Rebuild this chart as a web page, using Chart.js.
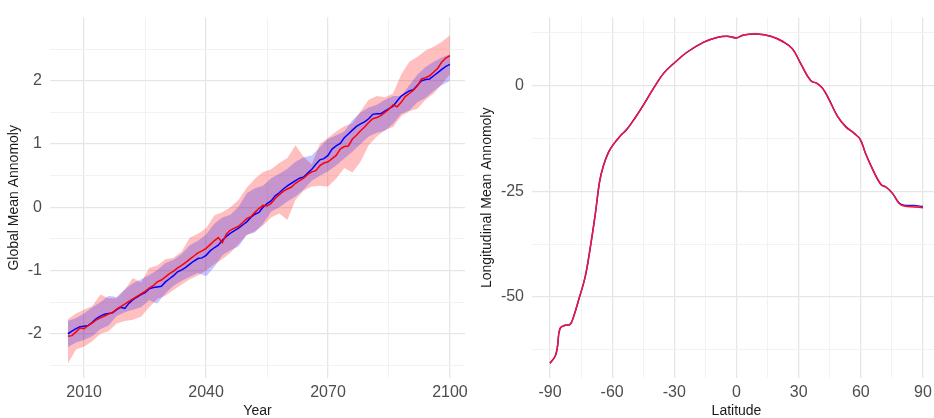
<!DOCTYPE html>
<html>
<head>
<meta charset="utf-8">
<script src="https://cdn.jsdelivr.net/npm/chart.js@4"></script>
<style>
html, body { margin: 0; padding: 0; background: #fff; overflow: hidden; width: 934px; height: 418px; }
#graphique-global { position: absolute; left: 0; top: 0; }
#graphique-latitude { position: absolute; left: 470px; top: 0; }
</style>
</head>
<body>
<canvas id="graphique-global" width="470" height="418"></canvas>
<canvas id="graphique-latitude" width="480" height="418"></canvas>
<script>
// Panneau gauche : anomalie moyenne globale par année
const years = [
  2006, 2007, 2008, 2009, 2010, 2011, 2012, 2013, 2014, 2015,
  2016, 2017, 2018, 2019, 2020, 2021, 2022, 2023, 2024, 2025,
  2026, 2027, 2028, 2029, 2030, 2031, 2032, 2033, 2034, 2035,
  2036, 2037, 2038, 2039, 2040, 2041, 2042, 2043, 2044, 2045,
  2046, 2047, 2048, 2049, 2050, 2051, 2052, 2053, 2054, 2055,
  2056, 2057, 2058, 2059, 2060, 2061, 2062, 2063, 2064, 2065,
  2066, 2067, 2068, 2069, 2070, 2071, 2072, 2073, 2074, 2075,
  2076, 2077, 2078, 2079, 2080, 2081, 2082, 2083, 2084, 2085,
  2086, 2087, 2088, 2089, 2090, 2091, 2092, 2093, 2094, 2095,
  2096, 2097, 2098, 2099, 2100
];
const redMean = [
  -2.04, -2.03, -1.97, -1.91, -1.92, -1.87, -1.83, -1.78, -1.75, -1.72,
  -1.69, -1.66, -1.61, -1.57, -1.53, -1.49, -1.45, -1.41, -1.37, -1.33,
  -1.28, -1.24, -1.18, -1.15, -1.10, -1.05, -1.01, -0.96, -0.92, -0.87,
  -0.82, -0.77, -0.72, -0.69, -0.65, -0.59, -0.53, -0.48, -0.56, -0.42,
  -0.36, -0.33, -0.30, -0.24, -0.18, -0.15, -0.08, -0.02, 0.03, 0.02,
  0.06, 0.14, 0.20, 0.25, 0.29, 0.32, 0.38, 0.42, 0.46, 0.52,
  0.56, 0.58, 0.66, 0.70, 0.72, 0.77, 0.82, 0.92, 0.96, 0.97,
  1.08, 1.14, 1.21, 1.27, 1.34, 1.40, 1.42, 1.45, 1.50, 1.55,
  1.62, 1.59, 1.66, 1.75, 1.80, 1.85, 1.92, 2.03, 2.05, 2.08,
  2.14, 2.20, 2.30, 2.36, 2.40
];
const blueMean = [
  -2.00, -1.96, -1.92, -1.89, -1.88, -1.87, -1.82, -1.76, -1.72, -1.69,
  -1.68, -1.67, -1.62, -1.58, -1.60, -1.52, -1.46, -1.42, -1.38, -1.35,
  -1.29, -1.27, -1.26, -1.25, -1.18, -1.13, -1.08, -1.02, -0.99, -0.95,
  -0.90, -0.85, -0.81, -0.80, -0.76, -0.69, -0.64, -0.60, -0.52, -0.46,
  -0.41, -0.37, -0.33, -0.28, -0.23, -0.16, -0.11, -0.08, 0.00, 0.06,
  0.10, 0.18, 0.23, 0.29, 0.34, 0.38, 0.42, 0.46, 0.48, 0.54,
  0.60, 0.68, 0.75, 0.77, 0.82, 0.92, 0.97, 1.01, 1.10, 1.16,
  1.22, 1.28, 1.32, 1.35, 1.40, 1.47, 1.48, 1.48, 1.52, 1.56,
  1.60, 1.68, 1.76, 1.80, 1.84, 1.86, 1.93, 2.00, 2.02, 2.03,
  2.08, 2.13, 2.18, 2.23, 2.26
];

// bandes d'incertitude (une valeur tous les deux ans)
const bandYears = [
  2006, 2008, 2010, 2012, 2014, 2016, 2018, 2020, 2022, 2024,
  2026, 2028, 2030, 2032, 2034, 2036, 2038, 2040, 2042, 2044,
  2046, 2048, 2050, 2052, 2054, 2056, 2058, 2060, 2062, 2064,
  2066, 2068, 2070, 2072, 2074, 2076, 2078, 2080, 2082, 2084,
  2086, 2088, 2090, 2092, 2094, 2096, 2098, 2100
];
const redHigh = [
  -1.77, -1.68, -1.62, -1.56, -1.38, -1.44, -1.44, -1.30, -1.12, -1.19,
  -0.96, -0.92, -0.82, -0.80, -0.70, -0.48, -0.42, -0.33, -0.13, -0.08,
  0.00, 0.12, 0.31, 0.45, 0.56, 0.60, 0.70, 0.78, 0.98, 0.80,
  0.68, 1.00, 1.10, 1.20, 1.28, 1.33, 1.52, 1.70, 1.76, 1.74,
  1.80, 2.10, 2.30, 2.38, 2.48, 2.54, 2.62, 2.72
];
const redLow = [
  -2.47, -2.25, -2.20, -2.12, -2.00, -1.96, -1.84, -1.80, -1.78, -1.73,
  -1.58, -1.45, -1.40, -1.31, -1.22, -1.14, -1.08, -1.00, -0.90, -0.82,
  -0.72, -0.58, -0.44, -0.38, -0.29, -0.16, -0.10, -0.20, 0.12, 0.26,
  0.33, 0.34, 0.33, 0.45, 0.62, 0.55, 0.72, 0.98, 1.12, 1.22,
  1.27, 1.44, 1.52, 1.56, 1.70, 1.80, 1.95, 2.10
];
const blueHigh = [
  -1.80, -1.75, -1.68, -1.58, -1.50, -1.40, -1.42, -1.30, -1.20, -1.14,
  -1.07, -0.99, -0.88, -0.83, -0.74, -0.60, -0.53, -0.43, -0.26, -0.16,
  -0.12, 0.01, 0.22, 0.30, 0.34, 0.46, 0.53, 0.61, 0.72, 0.79,
  0.82, 0.95, 1.08, 1.14, 1.20, 1.38, 1.50, 1.58, 1.62, 1.70,
  1.76, 1.76, 1.93, 2.10, 2.22, 2.30, 2.37, 2.42
];
const blueLow = [
  -2.21, -2.14, -2.10, -2.04, -1.93, -1.87, -1.72, -1.66, -1.62, -1.58,
  -1.47, -1.52, -1.36, -1.24, -1.16, -1.10, -1.04, -1.09, -0.95, -0.76,
  -0.68, -0.62, -0.44, -0.40, -0.26, -0.07, 0.00, 0.09, 0.17, 0.28,
  0.42, 0.50, 0.57, 0.66, 0.77, 0.88, 1.00, 1.12, 1.18, 1.21,
  1.32, 1.48, 1.53, 1.66, 1.73, 1.84, 1.93, 2.00
];
const yearTicks = [2010, 2040, 2070, 2100];
const yearMinorTicks = [2025, 2055, 2085];
const globalTicks = [-2, -1, 0, 1, 2];
const globalMinorTicks = [-2.5, -1.5, -0.5, 0.5, 1.5, 2.5];

// Panneau droit : anomalie moyenne longitudinale par latitude
const latitudes = [
  -90, -87.6, -86.5, -85.2, -82.7, -80.3, -78.7, -76.3, -73.1, -70.6,
  -68.2, -66.1, -64.2, -61.8, -59.4, -56.1, -53, -48.9, -44.8, -40,
  -35.2, -29.5, -23.9, -15.8, -9.4, -4.5, 0, 3.5, 10, 16.5,
  22.1, 27, 31, 35.8, 39, 41.5, 44.7, 48.7, 52.7, 56.8,
  59.7, 62.4, 65.6, 69.7, 72.1, 75.3, 78.5, 80.9, 85.8, 90
];
const redLat = [
  -65.7, -64.1, -62.1, -57.5, -56.7, -56.5, -54.8, -50.9, -45.4, -38.4,
  -30.6, -22.8, -18.9, -15.8, -13.9, -11.9, -10.4, -7.6, -4.5, -0.6,
  2.9, 5.6, 7.9, 10.3, 11.4, 11.7, 11.3, 12.0, 12.2, 11.7,
  10.5, 8.7, 5.2, 1.2, 0.5, -0.6, -3.3, -7.2, -9.7, -11.3,
  -12.7, -16.2, -19.7, -23.4, -24.0, -25.5, -27.9, -28.5, -28.7, -28.9
];
const blueLat = [
  -65.7, -64.1, -62.1, -57.5, -56.7, -56.5, -54.8, -50.9, -45.4, -38.4,
  -30.6, -22.8, -18.9, -15.8, -13.9, -11.9, -10.4, -7.6, -4.5, -0.6,
  2.9, 5.6, 7.9, 10.3, 11.4, 11.7, 11.3, 12.0, 12.2, 11.7,
  10.5, 8.7, 5.2, 1.2, 0.5, -0.6, -3.3, -7.2, -9.7, -11.3,
  -12.7, -16.2, -19.7, -23.4, -24.0, -25.5, -27.8, -28.3, -28.4, -28.6
];
const latTicks = [-90, -60, -30, 0, 30, 60, 90];
const latMinorTicks = [-75, -45, -15, 15, 45, 75];
const lonTicks = [-50, -25, 0];
const lonMinorTicks = [-62.5, -37.5, -12.5, 12.5];

const TICK_COLOR = "#4d4d4d";
const TITLE_COLOR = "#1a1a1a";
const FONT = "'Liberation Sans', Arial, sans-serif";

function points(xs, ys) {
  return xs.map((x, i) => ({ x: x, y: ys[i] }));
}

// axe façon ggplot theme_minimal : grille majeure + mineure, pas de trait d'axe
function axe(min, max, majors, minors, titre, titlePad, taille, horizontal) {
  return {
    type: "linear",
    min: min,
    max: max,
    border: { display: false },
    afterBuildTicks: (scale) => {
      scale.ticks = majors.concat(minors).map(v => ({ value: v }));
    },
    afterFit: (scale) => {
      if (horizontal) scale.height = taille; else scale.width = taille;
    },
    grid: {
      drawTicks: false,
      color: (c) => majors.includes(c.tick.value) ? "#e6e6e6" : "#f1f1f1",
      lineWidth: (c) => majors.includes(c.tick.value) ? 1.3 : 0.9
    },
    ticks: {
      autoSkip: false,
      maxRotation: 0,
      padding: horizontal ? 5 : 8,
      color: TICK_COLOR,
      font: { family: FONT, size: 16 },
      callback: (v) => majors.includes(v) ? String(v) : ""
    },
    title: {
      display: true,
      text: titre,
      color: TITLE_COLOR,
      font: { family: FONT, size: 14, lineHeight: 1 },
      padding: titlePad
    }
  };
}

Chart.defaults.animation = false;

new Chart(document.querySelector("#graphique-global"), {
  type: "line",
  data: {
    datasets: [
      { data: points(years, redMean), borderColor: "#ff0000", borderWidth: 1.5, pointRadius: 0, tension: 0, fill: false },
      { data: points(years, blueMean), borderColor: "#0000ff", borderWidth: 1.5, pointRadius: 0, tension: 0, fill: false },
      { data: points(bandYears, blueHigh), borderColor: "transparent", borderWidth: 0, pointRadius: 0, tension: 0, fill: "+1", backgroundColor: "rgba(0, 0, 255, 0.22)" },
      { data: points(bandYears, blueLow), borderColor: "transparent", borderWidth: 0, pointRadius: 0, tension: 0, fill: false },
      { data: points(bandYears, redHigh), borderColor: "transparent", borderWidth: 0, pointRadius: 0, tension: 0, fill: "+1", backgroundColor: "rgba(255, 0, 0, 0.25)" },
      { data: points(bandYears, redLow), borderColor: "transparent", borderWidth: 0, pointRadius: 0, tension: 0, fill: false }
    ]
  },
  options: {
    responsive: false,
    devicePixelRatio: 1,
    layout: { padding: { top: 13, right: 5, left: 0, bottom: 0 } },
    plugins: { legend: { display: false }, tooltip: { enabled: false } },
    scales: {
      x: axe(2001.6, 2103.7, yearTicks, yearMinorTicks, "Year", { top: 0, bottom: 0 }, 40, true),
      y: axe(-2.70, 3.0, globalTicks, globalMinorTicks, "Global Mean Annomoly", { top: 7, bottom: 0 }, 50, false)
    }
  }
});

new Chart(document.querySelector("#graphique-latitude"), {
  type: "line",
  data: {
    datasets: [
      { data: points(latitudes, redLat), borderColor: "#f0143c", borderWidth: 1.5, pointRadius: 0, tension: 0.4, fill: false },
      { data: points(latitudes, blueLat), borderColor: "#3c14c8", borderWidth: 1.5, pointRadius: 0, tension: 0.4, fill: false }
    ]
  },
  options: {
    responsive: false,
    devicePixelRatio: 1,
    layout: { padding: { top: 13, right: 9, left: 0, bottom: 0 } },
    plugins: { legend: { display: false }, tooltip: { enabled: false } },
    scales: {
      x: axe(-98.7, 98.7, latTicks, latMinorTicks, "Latitude", { top: 0, bottom: 0 }, 40, true),
      y: axe(-69.2, 16.1, lonTicks, lonMinorTicks, "Longitudinal Mean Annomoly", { top: 10, bottom: 0 }, 62, false)
    }
  }
});
</script>
</body>
</html>
